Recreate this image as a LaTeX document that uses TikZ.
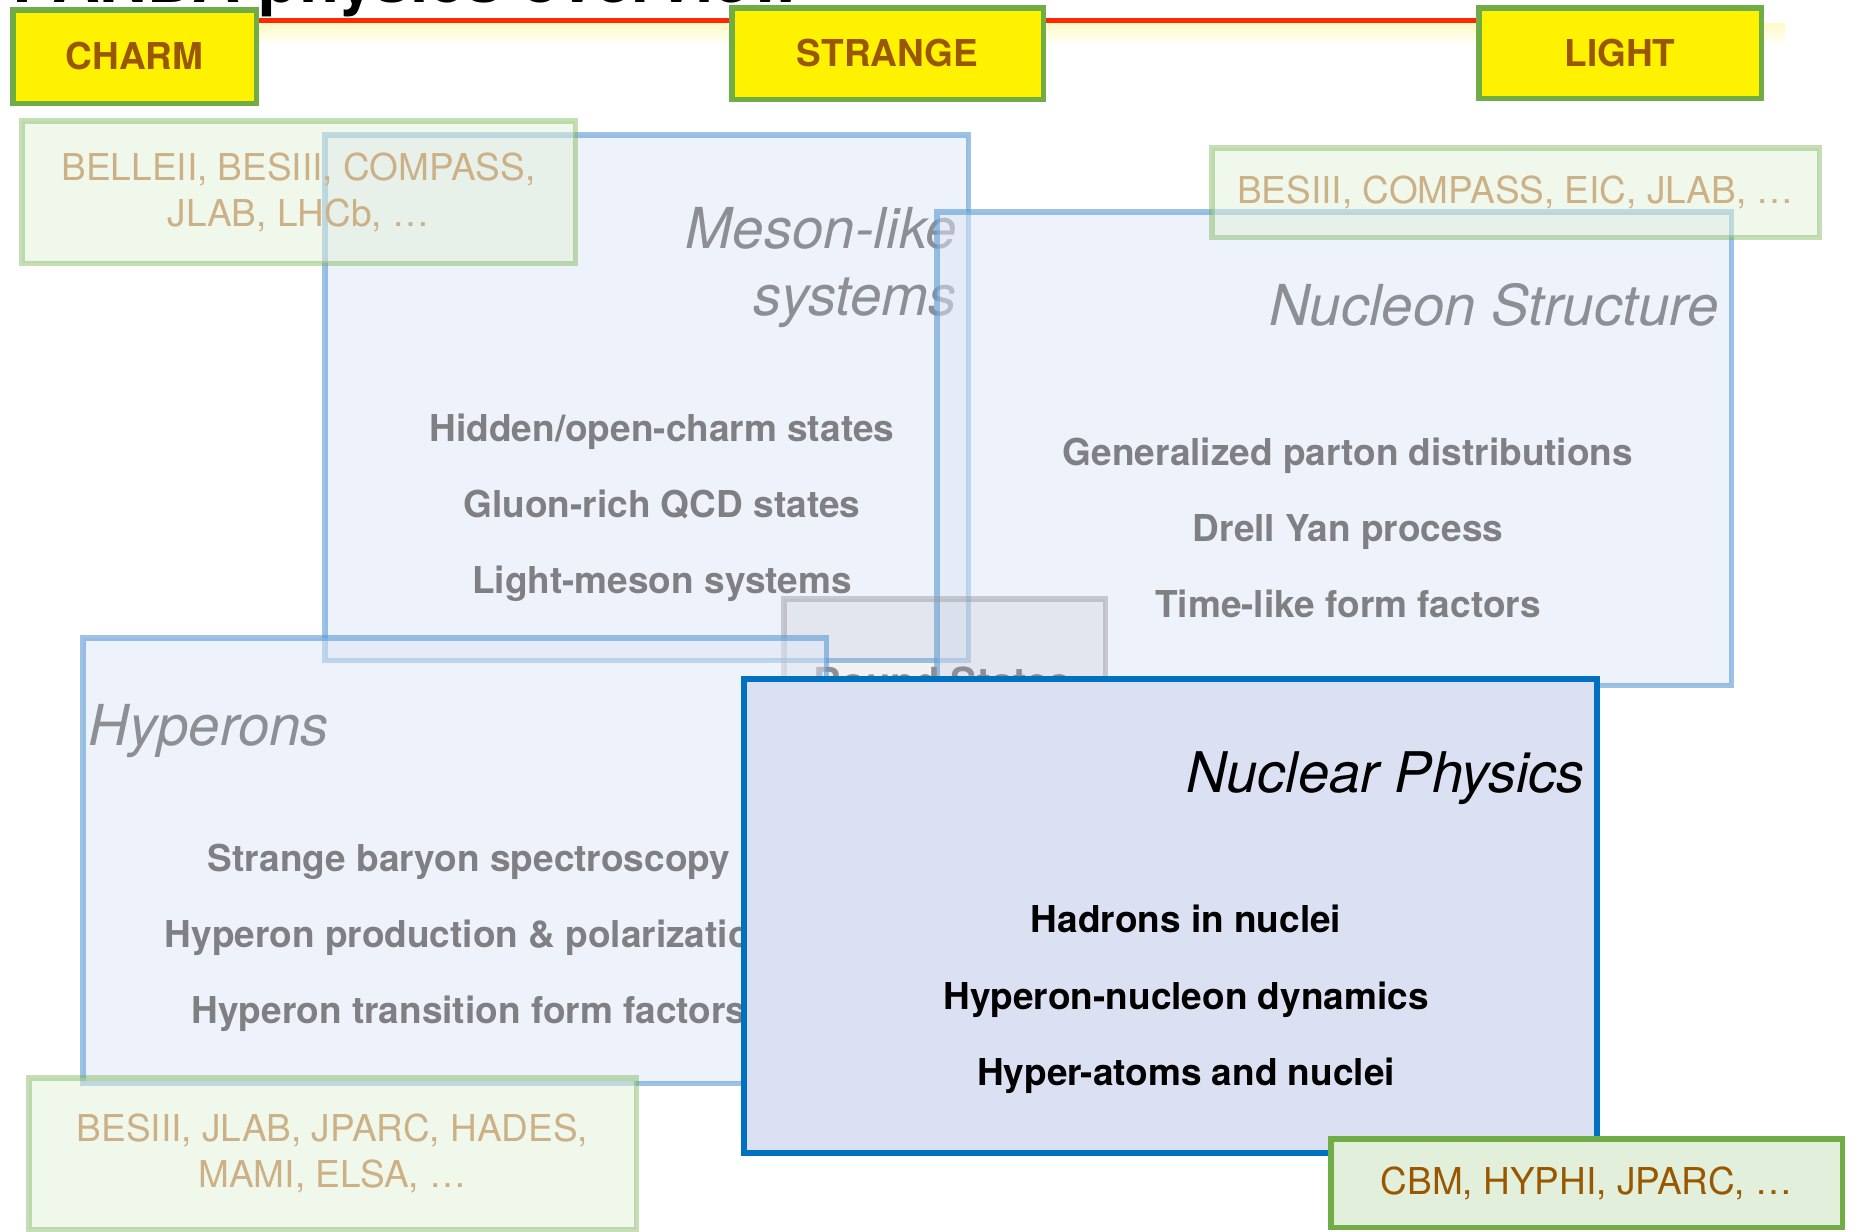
\documentclass[tikz,border=0pt]{standalone}
\usepackage{fontspec}
\setmainfont{TeX Gyre Heros}

\definecolor{frameGreen}{RGB}{112,173,71}
\definecolor{brownText}{RGB}{153,87,0}
\definecolor{tanText}{RGB}{204,177,134}
\definecolor{paleGreen}{RGB}{226,240,217}
\definecolor{solidGreen}{RGB}{226,239,218}
\definecolor{topicBlue}{RGB}{91,155,213}
\definecolor{topicFill}{RGB}{222,231,246}
\definecolor{nuclearBlue}{RGB}{0,112,192}
\definecolor{nuclearFill}{RGB}{219,225,242}
\definecolor{titleGray}{RGB}{142,143,148}
\definecolor{itemGray}{RGB}{128,128,132}
\definecolor{redLine}{RGB}{255,40,0}
\definecolor{glowYellow}{RGB}{255,249,196}
\definecolor{boundGray}{RGB}{150,150,162}

\begin{document}
\begin{tikzpicture}[x=0.5pt,y=-0.5pt,
  flavour/.style={draw=frameGreen, line width=2.75pt, fill=yellow, text=brownText,
    font=\bfseries\fontsize{18.5}{22}\selectfont, inner sep=0pt, outer sep=0pt},
  expt/.style={draw=frameGreen, draw opacity=0.4, fill=paleGreen, fill opacity=0.5,
    text opacity=1, text=tanText, line width=2.75pt, align=center,
    font=\fontsize{18.5}{23}\selectfont, inner sep=0pt, outer sep=0pt},
  topic/.style={draw=topicBlue, draw opacity=0.6, fill=topicFill, fill opacity=0.5,
    line width=2.75pt, inner sep=0pt, outer sep=0pt},
  topictitle/.style={font=\itshape\fontsize{28.2}{34}\selectfont, text=titleGray, inner sep=0pt},
  item/.style={font=\bfseries\fontsize{18.5}{22}\selectfont, text=itemGray, inner sep=0pt, anchor=base},
  nucitem/.style={item, text=black}
]
\useasboundingbox (0,0) rectangle (1865,1232);
\fill[white] (0,0) rectangle (1865,1232);
\clip (0,0) rectangle (1865,1232);

% heading, mostly above the page edge
\node[anchor=base west, font=\bfseries\fontsize{33}{40}\selectfont, inner sep=0pt] (title) at (12,2) {PANDA physics overview};

% flavour axis with its soft glow
\fill[top color=glowYellow, bottom color=white] (215,23) rectangle (1785,46);
\coordinate (axisL) at (14,20.5);
\coordinate (axisR) at (1480,20.5);
\draw[redLine, line width=2.5pt] (axisL) -- (axisR);

\node[flavour, minimum width=121.75pt, minimum height=46.75pt] (charm) at (134.5,56.5) {CHARM};
\node[flavour, minimum width=155.75pt, minimum height=45.75pt] (strange) at (887.5,53.5) {STRANGE};
\node[flavour, minimum width=141.25pt, minimum height=45.25pt] (light) at (1620,53) {LIGHT};

% meson-like systems
\node[topic, minimum width=321.75pt, minimum height=262.75pt] (meson) at (646.5,397.5) {};
\node[topictitle, anchor=base east] (mesonA) at (957,248) {Meson-like};
\node[topictitle, anchor=base east] (mesonB) at (957,315) {systems};
\node[item] (m1) at (662,441) {Hidden/open-charm states};
\node[item] (m2) at (662,517) {Gluon-rich QCD states};
\node[item] (m3) at (662,593) {Light-meson systems};

% nucleon structure
\node[topic, minimum width=397.25pt, minimum height=236.75pt] (nucleon) at (1334,448.5) {};
\node[topictitle, anchor=base east] (nucleonT) at (1719,325) {Nucleon Structure};
\node[item] (n1) at (1348,465) {Generalized parton distributions};
\node[item] (n2) at (1348,541) {Drell Yan process};
\node[item] (n3) at (1348,617) {Time-like form factors};

% bound states
\node[draw=boundGray, draw opacity=0.45, fill=boundGray, fill opacity=0.12, line width=2.75pt,
  inner sep=0pt, minimum width=160.75pt, minimum height=79.25pt] (bound) at (944.5,678) {};
\node[font=\bfseries\fontsize{20}{24}\selectfont, text=titleGray, anchor=base, inner sep=0pt] (boundT) at (942,696) {Bound States};

% hyperons
\node[topic, minimum width=371.75pt, minimum height=222.75pt] (hyperon) at (454.5,860.5) {};
\node[topictitle, anchor=base west] (hyperonT) at (88,745) {Hyperons};
\node[item] (h1) at (469,871) {Strange baryon spectroscopy};
\node[item] (h2) at (469,947) {Hyperon production \& polarization};
\node[item] (h3) at (469,1023) {Hyperon transition form factors};

% nuclear physics
\node[draw=nuclearBlue, fill=nuclearFill, line width=3pt, inner sep=0pt,
  minimum width=426.5pt, minimum height=237pt] (nuclear) at (1170.5,916) {};
\node[font=\itshape\fontsize{28}{34}\selectfont, anchor=base east, inner sep=0pt] (nuclearT) at (1585,792) {Nuclear Physics};
\node[nucitem] (p1) at (1186,932) {Hadrons in nuclei};
\node[nucitem] (p2) at (1186,1009) {Hyperon-nucleon dynamics};
\node[nucitem] (p3) at (1186,1085) {Hyper-atoms and nuclei};

% experiments
\node[expt, minimum width=276.75pt, minimum height=71.25pt] (expCharm) at (298.5,192)
  {BELLEII, BESIII, COMPASS,\\JLAB, LHCb, …};
\node[expt, minimum width=303.75pt, minimum height=44.75pt] (expLight) at (1515.5,192.5)
  {BESIII, COMPASS, EIC, JLAB, …};
\node[expt, minimum width=303.75pt, minimum height=75.75pt] (expStrange) at (332.5,1153.5)
  {BESIII, JLAB, JPARC, HADES,\\MAMI, ELSA, …};
\node[draw=frameGreen, fill=solidGreen, text=brownText, line width=2.75pt, inner sep=0pt,
  font=\fontsize{18.5}{23}\selectfont, minimum width=255.75pt, minimum height=44.25pt] (expNuclear) at (1586.5,1183)
  {CBM, HYPHI, JPARC, …};
\end{tikzpicture}
\end{document}
